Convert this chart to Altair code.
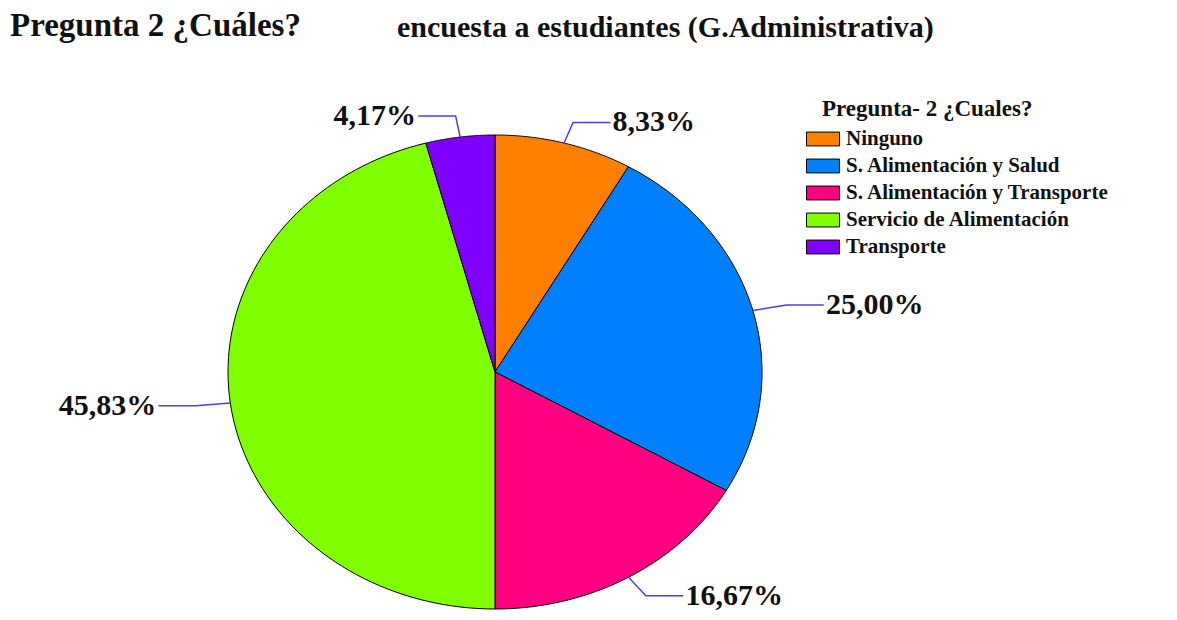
import altair as alt
import pandas as pd

categories = ["Ninguno", "S. Alimentación y Salud", "S. Alimentación y Transporte",
              "Servicio de Alimentación", "Transporte"]
values = [8.33, 25.00, 16.67, 45.83, 4.17]
labels = ["8,33%", "25,00%", "16,67%", "45,83%", "4,17%"]
colors = ["#FF8000", "#0080FF", "#FF0080", "#80FF00", "#8000FF"]
title_main = ["Pregunta 2 ¿Cuáles?"]
title_sub = ["encuesta a estudiantes (G.Administrativa)"]
legend_title = ["Pregunta- 2 ¿Cuales?"]

df = pd.DataFrame({"cat": categories, "value": values, "label": labels, "idx": list(range(len(values)))})

N = 90
RX = 1.13
RY = 1.09
H = 0.14
FONT = "Liberation Serif"
INK = "#111111"

xs = alt.Scale(domain=[-1, 1], range=[220, 754])
ys = alt.Scale(domain=[-1, 1], range=[601, 127])

base = (
    alt.Chart(df)
    .transform_window(cum="sum(value)", sort=[alt.SortField("idx")])
    .transform_joinaggregate(total="sum(value)")
    .transform_calculate(a0="2*PI*(datum.cum-datum.value)/datum.total")
    .transform_calculate(a1="2*PI*datum.cum/datum.total")
    .transform_calculate(am="(datum.a0+datum.a1)/2")
)

wedges = (
    base.transform_calculate(t=f"sequence(0,{N + 3})")
    .transform_flatten(["t"])
    .transform_calculate(r=f"(datum.t==0||datum.t=={N + 2})?0:1")
    .transform_calculate(ang=f"datum.a0+(datum.a1-datum.a0)*clamp((datum.t-1)/{N},0,1)")
    .transform_calculate(px="datum.r*sin(datum.ang)")
    .transform_calculate(py="datum.r*cos(datum.ang)")
    .mark_line(stroke="black", strokeWidth=1)
    .encode(
        x=alt.X("px:Q", scale=xs, axis=None),
        y=alt.Y("py:Q", scale=ys, axis=None),
        order="t:Q",
        detail="cat:N",
        fill=alt.Fill(
            "cat:N",
            scale=alt.Scale(domain=categories, range=colors),
            legend=alt.Legend(
                title=None,
                orient="none",
                legendX=798,
                legendY=114,
                padding=0,
                labelFont=FONT,
                labelFontSize=21,
                labelFontWeight="bold",
                labelColor=INK,
                labelLimit=500,
                labelOffset=6,
                rowPadding=0,
                symbolType="M-1,-0.42H1V0.42H-1Z",
                symbolSize=1089,
                symbolStrokeColor="black",
                symbolStrokeWidth=1,
            ),
        ),
    )
)

leaders = (
    base.transform_calculate(p="sequence(0,3)")
    .transform_flatten(["p"])
    .transform_calculate(s="sin(datum.am)>0?1:-1")
    .transform_calculate(
        lx=f"datum.p==0?sin(datum.am):(datum.p==1?{RX}*sin(datum.am):{RX}*sin(datum.am)+datum.s*{H})"
    )
    .transform_calculate(ly=f"datum.p==0?cos(datum.am):{RY}*cos(datum.am)")
    .mark_line(stroke="#4B3CF5", strokeWidth=1.5)
    .encode(
        x=alt.X("lx:Q", scale=xs, axis=None),
        y=alt.Y("ly:Q", scale=ys, axis=None),
        order="p:Q",
        detail="cat:N",
    )
)

label_base = (
    base.transform_calculate(s="sin(datum.am)>0?1:-1")
    .transform_calculate(tx=f"{RX}*sin(datum.am)+datum.s*{H + 0.008}")
    .transform_calculate(ty=f"{RY}*cos(datum.am)")
)

text_r = (
    label_base.transform_filter("datum.s>0")
    .mark_text(align="left", baseline="middle", font=FONT, fontSize=30, fontWeight="bold", color=INK)
    .encode(x=alt.X("tx:Q", scale=xs, axis=None), y=alt.Y("ty:Q", scale=ys, axis=None), text="label:N")
)
text_l = (
    label_base.transform_filter("datum.s<0")
    .mark_text(align="right", baseline="middle", font=FONT, fontSize=30, fontWeight="bold", color=INK)
    .encode(x=alt.X("tx:Q", scale=xs, axis=None), y=alt.Y("ty:Q", scale=ys, axis=None), text="label:N")
)

t1 = (
    alt.Chart(pd.DataFrame({"t": title_main}))
    .mark_text(align="left", baseline="top", font=FONT, fontSize=33, fontWeight="bold", color=INK)
    .encode(x=alt.value(2), y=alt.value(2), text="t:N")
)
t2 = (
    alt.Chart(pd.DataFrame({"t": title_sub}))
    .mark_text(align="left", baseline="top", font=FONT, fontSize=30, fontWeight="bold", color=INK)
    .encode(x=alt.value(389), y=alt.value(5), text="t:N")
)
t3 = (
    alt.Chart(pd.DataFrame({"t": legend_title}))
    .mark_text(align="left", baseline="alphabetic", font=FONT, fontSize=23, fontWeight="bold", color=INK)
    .encode(x=alt.value(814), y=alt.value(108), text="t:N")
)

chart = (
    alt.layer(wedges, leaders, text_r, text_l, t1, t2, t3)
    .properties(width=1161, height=604, autosize="none", padding=0, background="white")
    .configure_view(strokeWidth=0)
)

chart.save("out.html", embed_options={"renderer": "svg", "actions": False})
